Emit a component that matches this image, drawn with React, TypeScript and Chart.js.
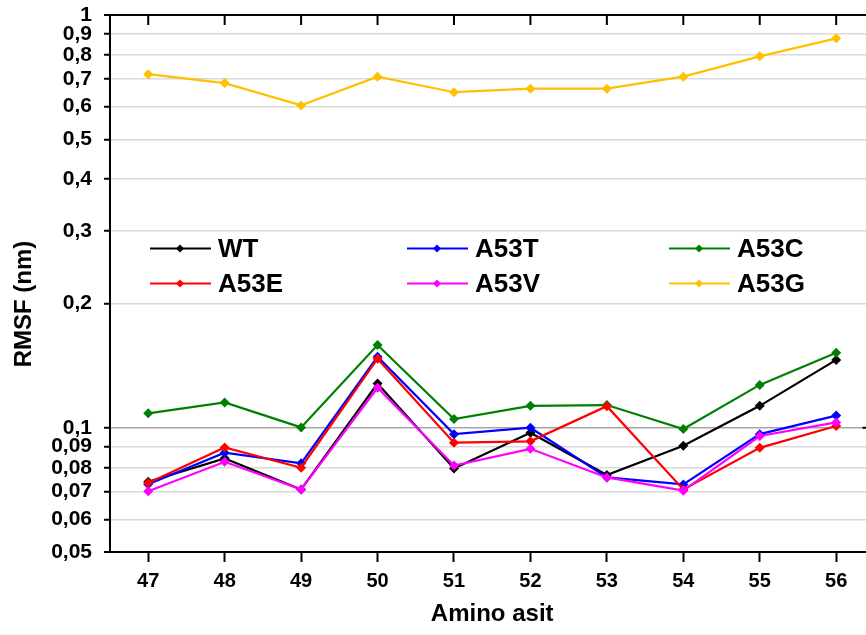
import React, { useEffect, useRef } from "react";
import { Chart, registerables } from "chart.js";

Chart.register(...registerables);

const categories = ["47", "48", "49", "50", "51", "52", "53", "54", "55", "56"];
const wt = [0.074, 0.0843, 0.0709, 0.128, 0.0797, 0.0972, 0.0768, 0.0904, 0.113, 0.146];
const a53t = [0.073, 0.087, 0.082, 0.1486, 0.0965, 0.1, 0.0758, 0.0729, 0.0965, 0.107];
const a53c = [0.1084, 0.1152, 0.1002, 0.1586, 0.105, 0.113, 0.1135, 0.0993, 0.127, 0.152];
const a53e = [0.0735, 0.0896, 0.08, 0.147, 0.092, 0.0927, 0.1128, 0.0709, 0.0894, 0.101];
const a53v = [0.0702, 0.0827, 0.0709, 0.125, 0.081, 0.0889, 0.0758, 0.0704, 0.0955, 0.103];
const a53g = [0.719, 0.684, 0.604, 0.709, 0.65, 0.663, 0.663, 0.709, 0.794, 0.878];
const yTicks = [0.05, 0.06, 0.07, 0.08, 0.09, 0.1, 0.2, 0.3, 0.4, 0.5, 0.6, 0.7, 0.8, 0.9, 1];

const seriesNames = ["WT", "A53T", "A53C", "A53E", "A53V", "A53G"];
const seriesColors = ["#000000", "#0000FF", "#008000", "#FF0000", "#FF00FF", "#FFC000"];
const seriesData = [wt, a53t, a53c, a53e, a53v, a53g];

const FONT = "'Liberation Sans', Arial, sans-serif";

function diamond(ctx: CanvasRenderingContext2D, x: number, y: number, r: number) {
  ctx.beginPath();
  ctx.moveTo(x, y - r);
  ctx.lineTo(x + r, y);
  ctx.lineTo(x, y + r);
  ctx.lineTo(x - r, y);
  ctx.closePath();
  ctx.fill();
}

const decor = {
  id: "decor",
  afterDraw(chart: any) {
    const { ctx, chartArea: a, scales } = chart;
    const xs = scales.x;
    const ys = scales.y;
    ctx.save();
    ctx.strokeStyle = "#000";
    ctx.lineWidth = 2;
    // top border
    ctx.beginPath();
    ctx.moveTo(a.left - 1, a.top);
    ctx.lineTo(a.right, a.top);
    ctx.stroke();
    // right border
    ctx.beginPath();
    ctx.moveTo(a.right, a.top);
    ctx.lineTo(a.right, a.bottom);
    ctx.stroke();
    // top inner ticks
    categories.forEach((_, i) => {
      const px = xs.getPixelForValue(i);
      ctx.beginPath();
      ctx.moveTo(px, a.top);
      ctx.lineTo(px, a.top + 10);
      ctx.stroke();
    });
    // right inner tick
    const py = ys.getPixelForValue(0.1);
    ctx.beginPath();
    ctx.moveTo(a.right - 12, py);
    ctx.lineTo(a.right, py);
    ctx.stroke();

    // legend
    const colX = [40, 297, 559];
    const rowY = [233.5, 268.5];
    ctx.font = `bold 26px ${FONT}`;
    ctx.textBaseline = "middle";
    ctx.textAlign = "left";
    seriesNames.forEach((name, i) => {
      const c = i % 3;
      const r = Math.floor(i / 3);
      const x0 = a.left + colX[c];
      const y0 = a.top + rowY[r];
      ctx.strokeStyle = seriesColors[i];
      ctx.fillStyle = seriesColors[i];
      ctx.lineWidth = 2;
      ctx.beginPath();
      ctx.moveTo(x0, y0);
      ctx.lineTo(x0 + 61, y0);
      ctx.stroke();
      diamond(ctx, x0 + 30, y0, 4);
      ctx.fillStyle = "#000";
      ctx.fillText(name, x0 + 68, y0 + 1);
    });

    // axis titles
    ctx.fillStyle = "#000";
    ctx.font = `bold 24px ${FONT}`;
    ctx.textAlign = "center";
    ctx.textBaseline = "middle";
    ctx.fillText("Amino asit", (a.left + a.right) / 2, 614);
    ctx.save();
    ctx.translate(24, 304);
    ctx.rotate(-Math.PI / 2);
    ctx.fillText("RMSF (nm)", 0, 0);
    ctx.restore();
    ctx.restore();
  },
};

export default function App() {
  const ref = useRef<HTMLCanvasElement | null>(null);
  useEffect(() => {
    if (!ref.current) return;
    const chart = new Chart(ref.current, {
      type: "line",
      data: {
        labels: categories,
        datasets: seriesData.map((d, i) => ({
          label: seriesNames[i],
          data: d,
          borderColor: seriesColors[i],
          backgroundColor: seriesColors[i],
          borderWidth: 2.2,
          pointStyle: "rectRot",
          pointRadius: 5,
          pointBorderWidth: 0,
          pointBackgroundColor: seriesColors[i],
          tension: 0,
          order: 10 - i,
        })),
      },
      options: {
        animation: false,
        responsive: false,
        devicePixelRatio: 1,
        layout: { padding: { top: 15, left: 0, right: 5.6, bottom: 0 } },
        plugins: {
          legend: { display: false },
          tooltip: { enabled: false },
        },
        scales: {
          x: {
            type: "category",
            offset: true,
            grid: {
              display: true,
              drawOnChartArea: false,
              tickLength: 10,
              tickColor: "#000",
              tickWidth: 2,
            },
            border: { display: true, color: "#000", width: 2 },
            ticks: {
              color: "#000",
              font: { family: FONT, size: 20, weight: "bold" },
              padding: 7,
              maxRotation: 0,
            },
            afterFit: (s: any) => {
              s.height = 83;
              s.paddingLeft = 0;
              s.paddingRight = 0;
            },
          },
          y: {
            type: "logarithmic",
            min: 0.05,
            max: 1,
            afterBuildTicks: (s: any) => {
              s.ticks = yTicks.map((v) => ({ value: v }));
            },
            grid: {
              display: true,
              drawOnChartArea: true,
              tickLength: 6,
              tickColor: "#000",
              tickWidth: 2,
              lineWidth: (c: any) => (c.tick && (c.tick.value === 0.05 || c.tick.value === 1) ? 0 : 1.5),
              color: (c: any) => (c.tick && c.tick.value === 0.1 ? "#a6a6a6" : "#d9d9d9"),
            },
            border: { display: true, color: "#000", width: 2 },
            ticks: {
              color: "#000",
              font: { family: FONT, size: 21, weight: "bold" },
              padding: 12,
              autoSkip: false,
              callback: (v: any) => String(v).replace(".", ","),
            },
            afterFit: (s: any) => {
              s.width = 110;
              s.paddingTop = 0;
              s.paddingBottom = 0;
            },
          },
        },
      },
      plugins: [decor],
    });
    return () => chart.destroy();
  }, []);
  return (
    <div style={{ position: "fixed", left: 0, top: 0, width: 866, height: 635, overflow: "hidden", background: "#fff" }}>
      <canvas ref={ref} width={880} height={635} style={{ display: "block" }} />
    </div>
  );
}
